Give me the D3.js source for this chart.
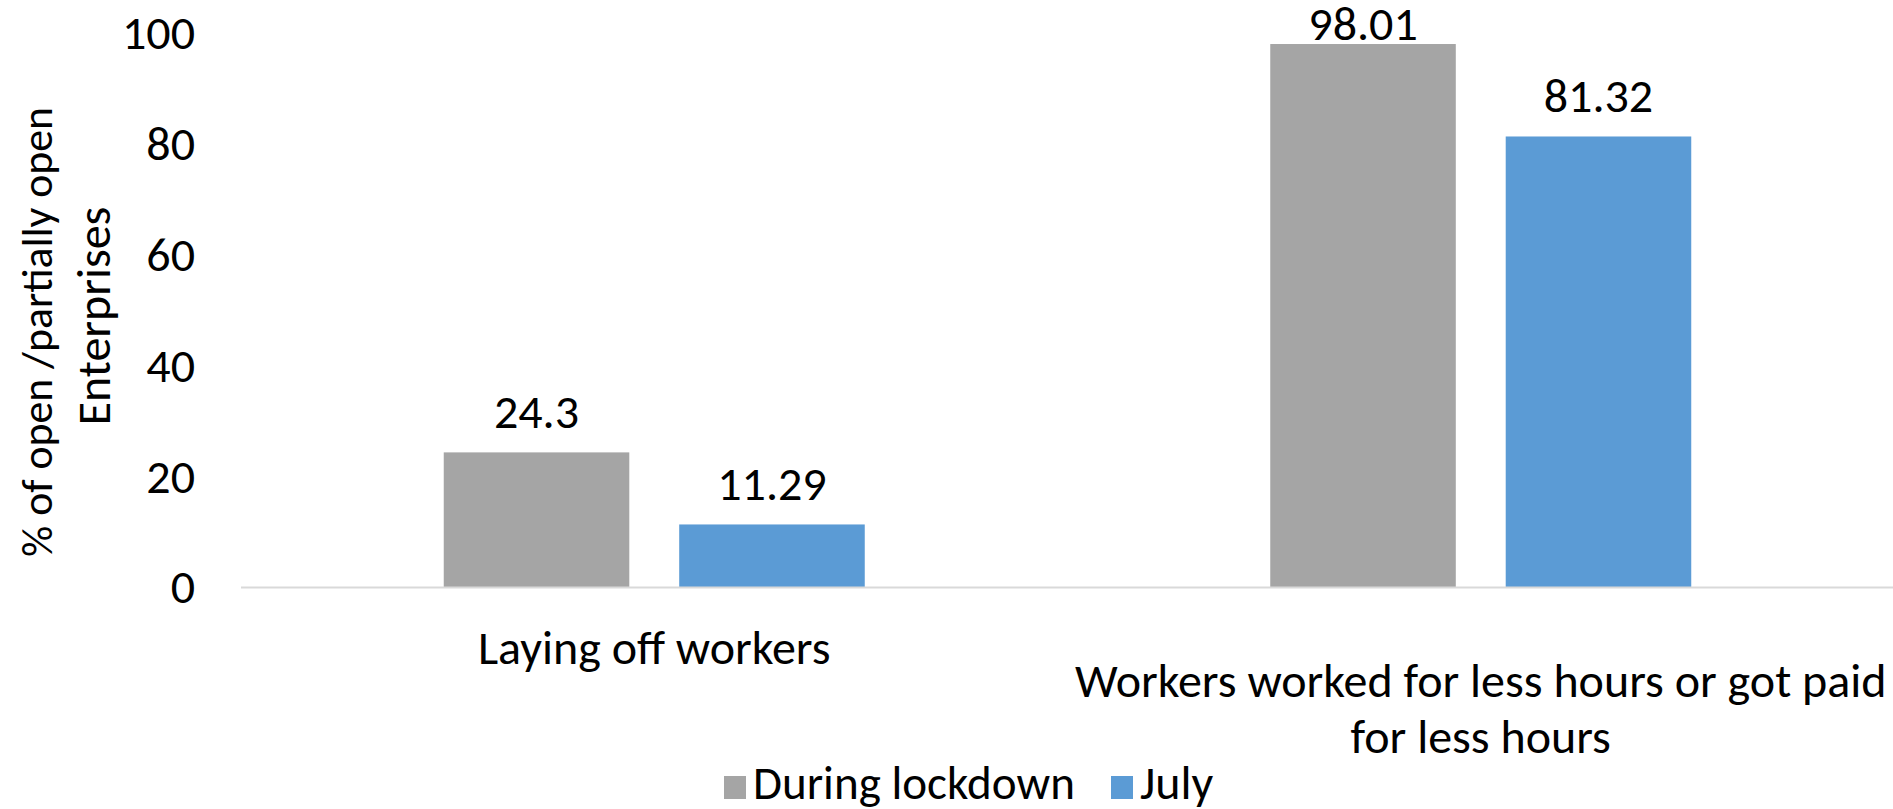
<!DOCTYPE html>
<html>
<head>
<meta charset="utf-8">
<script src="https://cdn.jsdelivr.net/npm/d3@7"></script>
<style>
	html, body { margin: 0; padding: 0; background: #fff; }
	svg { display: block; }
	text { font-family: Carlito, Calibri, Lato, sans-serif; fill: #000; }
</style>
</head>
<body>
<svg width="1893" height="809"></svg>
<script>
const categories = ['Laying off workers', 'Workers worked for less hours or got paid for less hours'];
const categoryLines = [['Laying off workers'], ['Workers worked for less hours or got paid', 'for less hours']];
const seriesNames = ['During lockdown', 'July'];
const lockdownValues = [24.3, 98.01];
const julyValues = [11.29, 81.32];
const valueLabels = [['24.3', '98.01'], ['11.29', '81.32']];
const yTicks = [0, 20, 40, 60, 80, 100];
const colors = ['#a5a5a5', '#5b9bd5'];

const width = 1893,
	height = 809,
	svg = d3.select('svg'),
	plot = {left: 241, right: 1894, top: 33, bottom: 587};

// Calibri is missing, so scale the stand-in font to Calibri's widths
let probe = svg.append('text').attr('font-size', 48).text('Laying off workers');
let fontSize = Math.min(48, 48 * 354 / probe.node().getComputedTextLength());
probe.remove();

// shrink a text to a target width if the stand-in font runs longer
function fitWidth(sel, target) {
	sel.each(function (d) {
		let w = this.getComputedTextLength();
		let t = typeof target === 'function' ? target(d) : target;
		if (t && w > t) {
			d3.select(this).attr('font-size', fontSize * t / w);
		}
	});
}

let x0 = d3.scaleBand().domain(categories).range([plot.left, plot.right]).padding(0);
let groupWidth = 421;
let x1 = d3.scaleBand().domain(seriesNames).range([0, groupWidth]).paddingInner(0.212).paddingOuter(0);
let y = d3.scaleLinear().domain([0, 100]).range([plot.bottom, plot.top]);

let rows = categories.map((c, i) => ({
	category: c,
	values: [lockdownValues[i], julyValues[i]]
}));

// y tick labels (no gridlines, no axis line)
let yAxis = svg.append('g')
	.attr('transform', 'translate(' + 195 + ',0)')
	.call(d3.axisLeft(y).tickValues(yTicks).tickSize(0).tickPadding(0));
yAxis.select('.domain').remove();
yAxis.selectAll('text')
	.attr('font-size', fontSize)
	.attr('font-family', null)
	.attr('dy', '0.33em');

// bars
let groups = svg.append('g').selectAll('g')
	.data(rows)
	.enter().append('g')
	.attr('transform', d => 'translate(' + (x0(d.category) + (x0.bandwidth() - groupWidth) / 2) + ',0)');

groups.selectAll('rect')
	.data(d => d.values.map((v, k) => ({series: seriesNames[k], value: v, k})))
	.enter().append('rect')
	.attr('x', d => x1(d.series))
	.attr('y', d => y(d.value))
	.attr('width', x1.bandwidth())
	.attr('height', d => y(0) - y(d.value))
	.attr('fill', d => colors[d.k]);

// value labels, clamped so they stay inside the chart
groups.selectAll('text.value')
	.data((d, i) => d.values.map((v, k) => ({series: seriesNames[k], value: v, label: valueLabels[k][i]})))
	.enter().append('text')
	.attr('class', 'value')
	.attr('x', d => x1(d.series) + x1.bandwidth() / 2)
	.attr('y', d => Math.max(y(d.value) - 24, 40))
	.attr('text-anchor', 'middle')
	.attr('font-size', fontSize)
	.text(d => d.label);

// category axis line
svg.append('line')
	.attr('x1', plot.left).attr('x2', width)
	.attr('y1', y(0) + 0.5).attr('y2', y(0) + 0.5)
	.attr('stroke', '#d9d9d9')
	.attr('stroke-width', 2);

// category labels (the wrapped one sits lower, as in the original)
let catLabels = svg.append('g').selectAll('text')
	.data(categories)
	.enter().append('text')
	.attr('x', d => x0(d) + x0.bandwidth() / 2)
	.attr('y', (d, i) => categoryLines[i].length > 1 ? 697 : 664)
	.attr('text-anchor', 'middle')
	.attr('font-size', fontSize);
catLabels.each(function (d, i) {
	d3.select(this).selectAll('tspan')
		.data(categoryLines[i])
		.enter().append('tspan')
		.attr('x', x0(d) + x0.bandwidth() / 2)
		.attr('dy', (t, j) => j === 0 ? 0 : 56)
		.text(t => t);
});

// y axis title, two lines
let titleLines = [
	{text: '% of open /partially open', x: 52, cy: 332, w: 450},
	{text: 'Enterprises', x: 110, cy: 316, w: 0}
];
let titles = svg.append('g').selectAll('text')
	.data(titleLines)
	.enter().append('text')
	.attr('transform', d => 'translate(' + d.x + ',' + d.cy + ') rotate(-90)')
	.attr('text-anchor', 'middle')
	.attr('font-size', fontSize)
	.text(d => d.text);
fitWidth(titles, d => d.w);

// legend
let legendItems = [
	{name: seriesNames[0], color: colors[0], x: 724, w: 322},
	{name: seriesNames[1], color: colors[1], x: 1111, w: 0}
];
let legend = svg.append('g').selectAll('g')
	.data(legendItems)
	.enter().append('g')
	.attr('transform', d => 'translate(' + d.x + ',776)');
legend.append('rect')
	.attr('width', 22).attr('height', 23)
	.attr('fill', d => d.color);
let legendText = legend.append('text')
	.attr('x', 29)
	.attr('y', 23)
	.attr('font-size', fontSize)
	.text(d => d.name);
fitWidth(legendText, d => d.w);
</script>
</body>
</html>
